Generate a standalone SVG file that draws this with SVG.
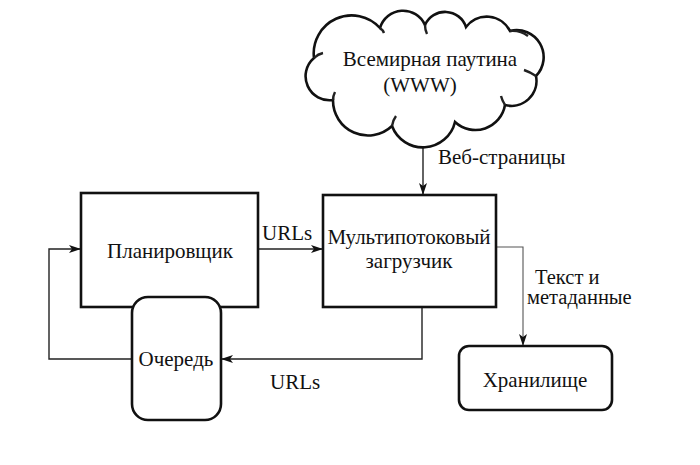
<svg xmlns="http://www.w3.org/2000/svg" width="700" height="465" viewBox="0 0 700 465" font-family="'Liberation Serif', 'Times New Roman', 'DejaVu Serif', serif">
<defs>
<style>
text{font-family:"Liberation Serif","Times New Roman","DejaVu Serif",serif;font-size:21px;fill:#111;}
.sm{font-size:20.5px;}
.box{fill:#fff;stroke:#111;stroke-width:2.6;}
.con{fill:none;stroke:#222;stroke-width:1.4;}
.thin{fill:none;stroke:#555;stroke-width:1.1;}
</style>
<marker id="arr" viewBox="0 0 12 8" markerWidth="12" markerHeight="8" refX="11" refY="4" orient="auto" markerUnits="userSpaceOnUse">
<path d="M0,0 L12,4 L0,8 L3,4 z" fill="#111"/>
</marker>
</defs>
<rect width="700" height="465" fill="#fff"/>
<g id="connectors">
<line class="con" x1="423" y1="132" x2="423" y2="194" marker-end="url(#arr)"/>
<line class="con" x1="258" y1="249" x2="322" y2="249" marker-end="url(#arr)"/>
<polyline class="con" points="132,359 49,359 49,249 80,249" marker-end="url(#arr)"/>
<polyline class="con" points="422,307 422,359 222,359" marker-end="url(#arr)"/>
<polyline class="thin" points="496,247 523,247 523,345" marker-end="url(#arr)"/>
<text x="438" y="164">Веб-страницы</text>
<text x="262" y="240">URLs</text>
<text x="270" y="389">URLs</text>
<text class="sm" x="535" y="284">Текст и</text>
<text class="sm" x="527" y="304">метаданные</text>
</g>
<g id="cloud">
<path class="box" d="M314,58 A38,38 0 0 1 380,28 A24,24 0 0 1 425,25 A22,22 0 0 1 466,27 A26,26 0 0 1 510,31 A27,27 0 0 1 536,76 A25,25 0 0 1 505,105 A30,30 0 0 1 455,122 A33,33 0 0 1 392,126 A35,35 0 0 1 333,100 A24,24 0 0 1 314,58 Z"/>
<path class="con" style="stroke-width:2.4" d="M314,58 Q318,54 323,53 M380,28 Q383,30 384,33 M425,25 Q425,30 427,34 M510,31 Q520,30 528,36 M536,76 Q530,72 524,70 M505,105 Q502,100 501,96 M392,126 Q393,120 396,116 M333,100 Q333,96 335,92"/>
<text x="430" y="66" text-anchor="middle">Всемирная паутина</text>
<text x="420" y="92" text-anchor="middle">(WWW)</text>
</g>
<g id="planner">
<rect class="box" x="81" y="193" width="177" height="114"/>
<text x="170" y="258" text-anchor="middle">Планировщик</text>
</g>
<g id="queue">
<rect class="box" x="132" y="297" width="89" height="123" rx="16"/>
<text x="176" y="366" text-anchor="middle">Очередь</text>
</g>
<g id="downloader">
<rect class="box" x="323" y="195" width="173" height="112"/>
<text x="409" y="244" text-anchor="middle">Мультипотоковый</text>
<text x="409" y="268" text-anchor="middle">загрузчик</text>
</g>
<g id="storage">
<rect class="box" x="459" y="346" width="153" height="64" rx="10"/>
<text x="535" y="387" text-anchor="middle">Хранилище</text>
</g>
</svg>
